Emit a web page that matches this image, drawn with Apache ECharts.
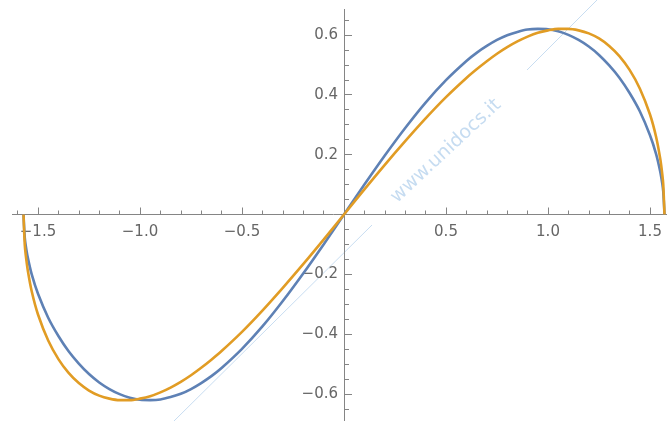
<!DOCTYPE html>
<html>
<head>
<meta charset="utf-8">
<script src="https://cdn.jsdelivr.net/npm/echarts@6/dist/echarts.min.js"></script>
<style>
  html, body { margin: 0; padding: 0; background: #fff; }
  #chart { width: 667px; height: 421px; }
</style>
</head>
<body>
<div id="chart"></div>
<script>
// x positions (radians, -pi/2 .. pi/2)
var xs = [-1.571, -1.565, -1.56, -1.55, -1.53, -1.5, -1.45, -1.4, -1.35, -1.3, -1.25, -1.2, -1.15, -1.1,
  -1.05, -1.0, -0.95, -0.9, -0.85, -0.8, -0.75, -0.7, -0.65, -0.6, -0.5, -0.4, -0.3, -0.2, -0.1, 0,
  0.1, 0.2, 0.3, 0.4, 0.5, 0.6, 0.65, 0.7, 0.75, 0.8, 0.85, 0.9, 0.95, 1.0, 1.05, 1.1, 1.15, 1.2,
  1.25, 1.3, 1.35, 1.4, 1.45, 1.5, 1.53, 1.55, 1.56, 1.565, 1.571];

// blue curve
var blueVals = [0, -0.076, -0.104, -0.144, -0.202, -0.265, -0.345, -0.406, -0.457, -0.498, -0.533, -0.561, -0.583, -0.600,
  -0.612, -0.619, -0.620, -0.618, -0.610, -0.599, -0.583, -0.563, -0.540, -0.513, -0.449, -0.374, -0.289, -0.197, -0.100, 0,
  0.100, 0.197, 0.289, 0.374, 0.449, 0.513, 0.540, 0.563, 0.583, 0.599, 0.610, 0.618, 0.620, 0.619, 0.612, 0.600, 0.583, 0.561,
  0.533, 0.498, 0.457, 0.406, 0.345, 0.265, 0.202, 0.144, 0.104, 0.076, 0];

// orange curve
var orangeVals = [0, -0.100, -0.136, -0.187, -0.259, -0.334, -0.421, -0.483, -0.529, -0.563, -0.588, -0.605, -0.615, -0.620,
  -0.620, -0.615, -0.607, -0.594, -0.578, -0.559, -0.537, -0.512, -0.485, -0.456, -0.392, -0.321, -0.245, -0.166, -0.084, 0,
  0.084, 0.166, 0.245, 0.321, 0.392, 0.456, 0.485, 0.512, 0.537, 0.559, 0.578, 0.594, 0.607, 0.615, 0.620, 0.620, 0.615, 0.605,
  0.588, 0.563, 0.529, 0.483, 0.421, 0.334, 0.259, 0.187, 0.136, 0.100, 0];

function pairs(vals) {
  return xs.map(function (x, i) { return [x, vals[i]]; });
}

function fmt(v) {
  if (Math.abs(v) < 1e-9) return '';
  return (v < 0 ? '\u2212' : '') + Math.abs(v).toFixed(1);
}

var axisColor = '#858585';
var labelStyle = { color: '#666', fontFamily: 'DejaVu Sans', fontSize: 15 };

var chart = echarts.init(document.getElementById('chart'));
chart.setOption({
  animation: false,
  grid: { left: -64, right: -85, top: -25, bottom: -33, outerBoundsMode: 'none' },
  xAxis: [
    {
      // line + ticks through y = 0
      type: 'value', min: -2, max: 2, interval: 0.5,
      axisLine: { onZero: true, lineStyle: { color: axisColor, width: 1 } },
      axisTick: { inside: true, length: 7, lineStyle: { color: axisColor } },
      minorTick: { show: true, splitNumber: 5, length: 4, lineStyle: { color: axisColor } },
      splitLine: { show: false },
      axisLabel: { show: false }
    },
    {
      // labels only, shifted up to the zero line
      type: 'value', min: -2, max: 2, interval: 0.5, position: 'bottom', offset: -240,
      axisLine: { show: false, onZero: false }, axisTick: { show: false }, splitLine: { show: false },
      axisLabel: Object.assign({ margin: 11, formatter: fmt }, labelStyle)
    }
  ],
  yAxis: [
    {
      type: 'value', min: -0.8, max: 0.8, interval: 0.2,
      axisLine: { show: true, onZero: true, lineStyle: { color: axisColor, width: 1 } },
      axisTick: { show: true, inside: true, length: 8, lineStyle: { color: axisColor } },
      minorTick: { show: true, splitNumber: 4, length: 5, lineStyle: { color: axisColor } },
      splitLine: { show: false },
      axisLabel: { show: false }
    },
    {
      type: 'value', min: -0.8, max: 0.8, interval: 0.2, position: 'left', offset: -408,
      axisLine: { show: false, onZero: false }, axisTick: { show: false }, splitLine: { show: false },
      axisLabel: Object.assign({ margin: 6, formatter: fmt }, labelStyle)
    }
  ],
  series: [
    {
      type: 'line', data: pairs(blueVals), showSymbol: false, symbol: 'none',
      smooth: 0.3, clip: false,
      lineStyle: { color: '#5e81b5', width: 2.6 }, z: 3
    },
    {
      type: 'line', data: pairs(orangeVals), showSymbol: false, symbol: 'none',
      smooth: 0.3, clip: false,
      lineStyle: { color: '#e19c24', width: 2.6 }, z: 4
    }
  ],
  graphic: [
    // trim the axis lines where the reference stops them
    { type: 'rect', shape: { x: 0, y: 208, width: 12, height: 12 }, style: { fill: '#fff' }, z: 100 },
    { type: 'rect', shape: { x: 335, y: 0, width: 20, height: 9 }, style: { fill: '#fff' }, z: 100 },
    // watermark
    { type: 'line', shape: { x1: 174, y1: 421, x2: 372, y2: 225 }, style: { stroke: '#c8ddf1', lineWidth: 1 }, z: 0 },
    { type: 'line', shape: { x1: 527, y1: 70, x2: 597, y2: 0 }, style: { stroke: '#c8ddf1', lineWidth: 1 }, z: 0 },
    {
      type: 'text', x: 446, y: 151, rotation: 0.75, z: 0,
      style: { text: 'www.unidocs.it', fill: '#c6dcf1', font: '19px "DejaVu Sans"', align: 'center', verticalAlign: 'middle' }
    }
  ]
});
</script>
</body>
</html>
